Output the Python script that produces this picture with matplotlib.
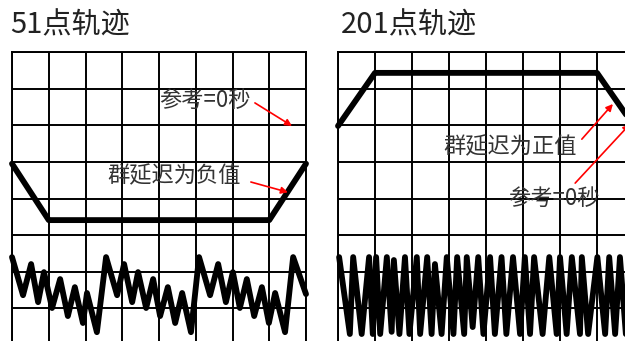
import matplotlib.pyplot as plt

plt.rcParams['font.family'] = ['Noto Sans CJK SC', 'DejaVu Sans']

# panel titles
titles = ["51点轨迹", "201点轨迹"]

# trapezoid traces (grid units, 8 x 8 divisions)
trap_x = [0, 1, 7, 8]
trap_51_y = [4.95, 3.41, 3.41, 4.95]
trap_201_y = [5.98, 7.43, 7.43, 5.98]

# noisy trace, 51 points
noise_51_x = [0.00, 0.30, 0.52, 0.71, 0.87, 1.09, 1.31, 1.52, 1.71, 1.93, 2.04, 2.31,
              2.56, 2.86, 3.05, 3.27, 3.43, 3.65, 3.84, 4.03, 4.24, 4.44, 4.63, 4.87,
              5.09, 5.39, 5.61, 5.82, 6.01, 6.20, 6.39, 6.59, 6.80, 6.99, 7.16, 7.43,
              7.65, 8.00]
noise_51_y = [2.40, 1.36, 2.21, 1.17, 1.99, 1.01, 1.80, 0.79, 1.58, 0.60, 1.42, 0.35,
              2.40, 1.36, 2.21, 1.17, 1.99, 1.01, 1.80, 0.79, 1.58, 0.60, 1.42, 0.35,
              2.40, 1.36, 2.21, 1.17, 1.99, 1.01, 1.80, 0.79, 1.58, 0.60, 1.42, 0.35,
              2.40, 1.39]

# noisy trace, 201 points (aliased zigzag)
noise_201_x = [0.03, 0.32, 0.41, 0.64, 0.84, 0.94, 1.03, 1.14, 1.32, 1.45,
               1.51, 1.66, 1.81, 1.93, 2.13, 2.22, 2.41, 2.53, 2.62, 2.80,
               2.94, 3.12, 3.22, 3.41, 3.48, 3.64, 3.79, 3.93, 4.11, 4.24,
               4.42, 4.55, 4.73, 4.92, 5.05, 5.19, 5.30, 5.53, 5.71, 5.91,
               6.00, 6.18, 6.32, 6.54, 6.59, 6.76, 7.01, 7.22, 7.33, 7.49,
               7.62, 7.78]
noise_201_y = [2.40, 0.30, 2.40, 0.30, 2.40, 0.30, 2.40, 0.30, 2.40, 0.36,
               2.32, 0.30, 2.40, 0.30, 2.40, 0.30, 2.40, 0.30, 2.21, 0.30,
               2.40, 0.30, 2.40, 0.30, 2.40, 0.49, 2.40, 0.30, 2.40, 0.30,
               2.40, 0.30, 2.40, 0.30, 2.40, 0.30, 2.40, 0.30, 2.40, 0.30,
               2.40, 0.30, 2.40, 0.30, 2.40, 0.30, 2.40, 0.30, 2.40, 0.30,
               2.40, 0.30]

fig = plt.figure(figsize=(6.25, 3.41), dpi=100)

ax1 = fig.add_axes([12 / 625, -4 / 341, 294 / 625, 293 / 341])
ax2 = fig.add_axes([338 / 625, -4 / 341, 296 / 625, 293 / 341])

for ax in (ax1, ax2):
    ax.set_xlim(0, 8)
    ax.set_ylim(0, 8)
    ax.set_xticks(range(9))
    ax.set_yticks(range(9))
    ax.tick_params(length=0, labelbottom=False, labelleft=False)
    ax.grid(True, color='black', lw=1.4)
    for s in ax.spines.values():
        s.set_linewidth(1.4)

ax1.plot(trap_x, trap_51_y, color='black', lw=4.2, clip_on=False, solid_capstyle='round')
ax1.plot(noise_51_x, noise_51_y, color='black', lw=4.2, clip_on=False, solid_capstyle='round')
ax2.plot(trap_x, trap_201_y, color='black', lw=4.2, clip_on=False, solid_capstyle='round')
ax2.plot(noise_201_x, noise_201_y, color='black', lw=4.2, clip_on=False, solid_capstyle='round')

fig.text(10 / 625, 1 - 25 / 341, titles[0], fontsize=21, color='#222222', va='center')
fig.text(341 / 625, 1 - 25 / 341, titles[1], fontsize=21, color='#222222', va='center')

arrow = dict(arrowstyle='-|>', color='red', lw=1.2, mutation_scale=10, shrinkA=0, shrinkB=0)
txt = dict(fontsize=16, color='#333333', va='center', ha='left')

ax1.text(4.0, 6.69, "参考=0秒", **txt)
ax1.annotate("", xy=(7.62, 5.98), xytext=(6.61, 6.61), arrowprops=arrow)
ax1.text(2.6, 4.61, "群延迟为负值", **txt)
ax1.annotate("", xy=(7.51, 4.17), xytext=(6.50, 4.45), arrowprops=arrow)

ax2.text(2.84, 5.40, "群延迟为正值", **txt)
ax2.annotate("", xy=(7.43, 6.58), xytext=(6.59, 5.62), arrowprops=arrow)
ax2.text(4.59, 4.01, "参考=0秒", **txt)
ax2.annotate("", xy=(7.89, 6.03), xytext=(6.41, 4.42), arrowprops=arrow, annotation_clip=False)

fig.savefig("out.png", dpi=100)
